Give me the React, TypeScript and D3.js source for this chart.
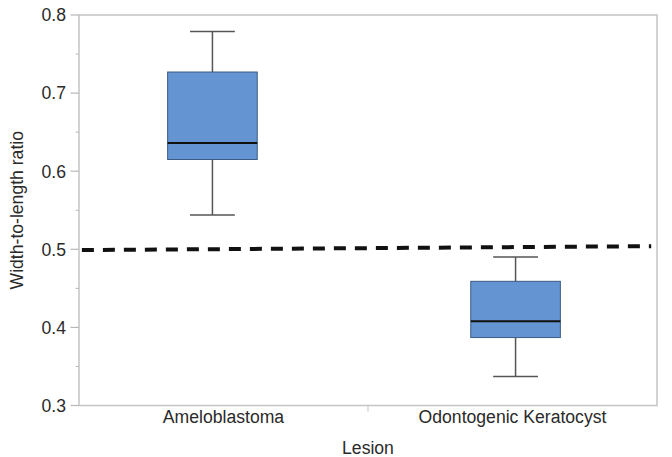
import React from "react";
import * as d3 from "d3";

const categories = ["Ameloblastoma", "Odontogenic Keratocyst"];
const whiskerLow = [0.544, 0.337];
const q1 = [0.615, 0.387];
const median = [0.636, 0.408];
const q3 = [0.727, 0.459];
const whiskerHigh = [0.779, 0.49];
const yTicks = [0.3, 0.4, 0.5, 0.6, 0.7, 0.8];
const yMinorTicks = [0.35, 0.45, 0.55, 0.65, 0.75];
const refLinePos = [0.005, 0.99];
const refLineVal = [0.499, 0.504];

const W = 672;
const H = 457;
const M = { left: 79, top: 15, right: 657, bottom: 405.5 };

export default function App() {
  const y = d3.scaleLinear().domain([0.3, 0.8]).range([M.bottom, M.top]);
  const xBand = d3.scaleBand().domain(categories).range([M.left, M.right]);
  const xBox = d3.scalePoint().domain(categories).range([73, 655]).padding(0.46);
  const xLin = d3.scaleLinear().domain([0, 1]).range([M.left, M.right]);
  const boxW = xBand.bandwidth() * 0.31;
  const capW = boxW * 0.5;
  const font = "'Liberation Sans', Arial, Helvetica, sans-serif";
  const fs = 17.6;
  const refLine = d3
    .line<number>()
    .x((d) => xLin(refLinePos[d]))
    .y((d) => y(refLineVal[d]));

  return (
    <svg
      width={W}
      height={H}
      style={{ position: "absolute", left: 0, top: 0, background: "#fff" }}
      fontFamily={font}
    >
      {/* frame */}
      <rect
        x={M.left}
        y={M.top}
        width={M.right - M.left}
        height={M.bottom - M.top}
        fill="none"
        stroke="#c4c4c4"
        strokeWidth={1.5}
      />
      {/* y ticks */}
      {yTicks.map((t) => (
        <g key={t}>
          <line x1={M.left - 8.5} x2={M.left} y1={y(t)} y2={y(t)} stroke="#b8b8b8" strokeWidth={1.2} />
          <text
            x={M.left - 13}
            y={y(t)}
            dy="0.36em"
            textAnchor="end"
            fontSize={fs}
            fill="#2a2a2a"
          >
            {d3.format(".1f")(t)}
          </text>
        </g>
      ))}
      {yMinorTicks.map((t) => (
        <line key={t} x1={M.left - 3.5} x2={M.left} y1={y(t)} y2={y(t)} stroke="#b8b8b8" strokeWidth={1} />
      ))}
      {/* x separator tick */}
      <line
        x1={xBand(categories[1])!}
        x2={xBand(categories[1])!}
        y1={M.bottom}
        y2={M.bottom + 6}
        stroke="#c4c4c4"
        strokeWidth={1}
      />
      {/* x labels */}
      {categories.map((c) => (
        <text
          key={c}
          x={xBand(c)! + xBand.bandwidth() / 2}
          y={423}
          textAnchor="middle"
          fontSize={fs}
          fill="#2a2a2a"
        >
          {c}
        </text>
      ))}
      <text x={(M.left + M.right) / 2} y={454} textAnchor="middle" fontSize={fs} fill="#2a2a2a">
        Lesion
      </text>
      <text
        transform={`translate(23, ${(M.top + M.bottom) / 2}) rotate(-90)`}
        textAnchor="middle"
        fontSize={fs}
        fill="#2a2a2a"
      >
        Width-to-length ratio
      </text>
      {/* boxes */}
      {categories.map((c, i) => {
        const cx = xBox(c)!;
        return (
          <g key={c}>
            <line x1={cx} x2={cx} y1={y(whiskerHigh[i])} y2={y(q3[i])} stroke="#555" strokeWidth={1.5} />
            <line x1={cx} x2={cx} y1={y(q1[i])} y2={y(whiskerLow[i])} stroke="#555" strokeWidth={1.5} />
            <line
              x1={cx - capW / 2}
              x2={cx + capW / 2}
              y1={y(whiskerHigh[i])}
              y2={y(whiskerHigh[i])}
              stroke="#555"
              strokeWidth={1.5}
            />
            <line
              x1={cx - capW / 2}
              x2={cx + capW / 2}
              y1={y(whiskerLow[i])}
              y2={y(whiskerLow[i])}
              stroke="#555"
              strokeWidth={1.5}
            />
            <rect
              x={cx - boxW / 2}
              y={y(q3[i])}
              width={boxW}
              height={y(q1[i]) - y(q3[i])}
              fill="#6495d2"
              stroke="#3d5a82"
              strokeWidth={1}
            />
            <line
              x1={cx - boxW / 2}
              x2={cx + boxW / 2}
              y1={y(median[i])}
              y2={y(median[i])}
              stroke="#111"
              strokeWidth={2}
            />
          </g>
        );
      })}
      {/* reference line */}
      <path
        d={refLine([0, 1])!}
        fill="none"
        stroke="#111"
        strokeWidth={4}
        strokeDasharray="12 9"
      />
    </svg>
  );
}
